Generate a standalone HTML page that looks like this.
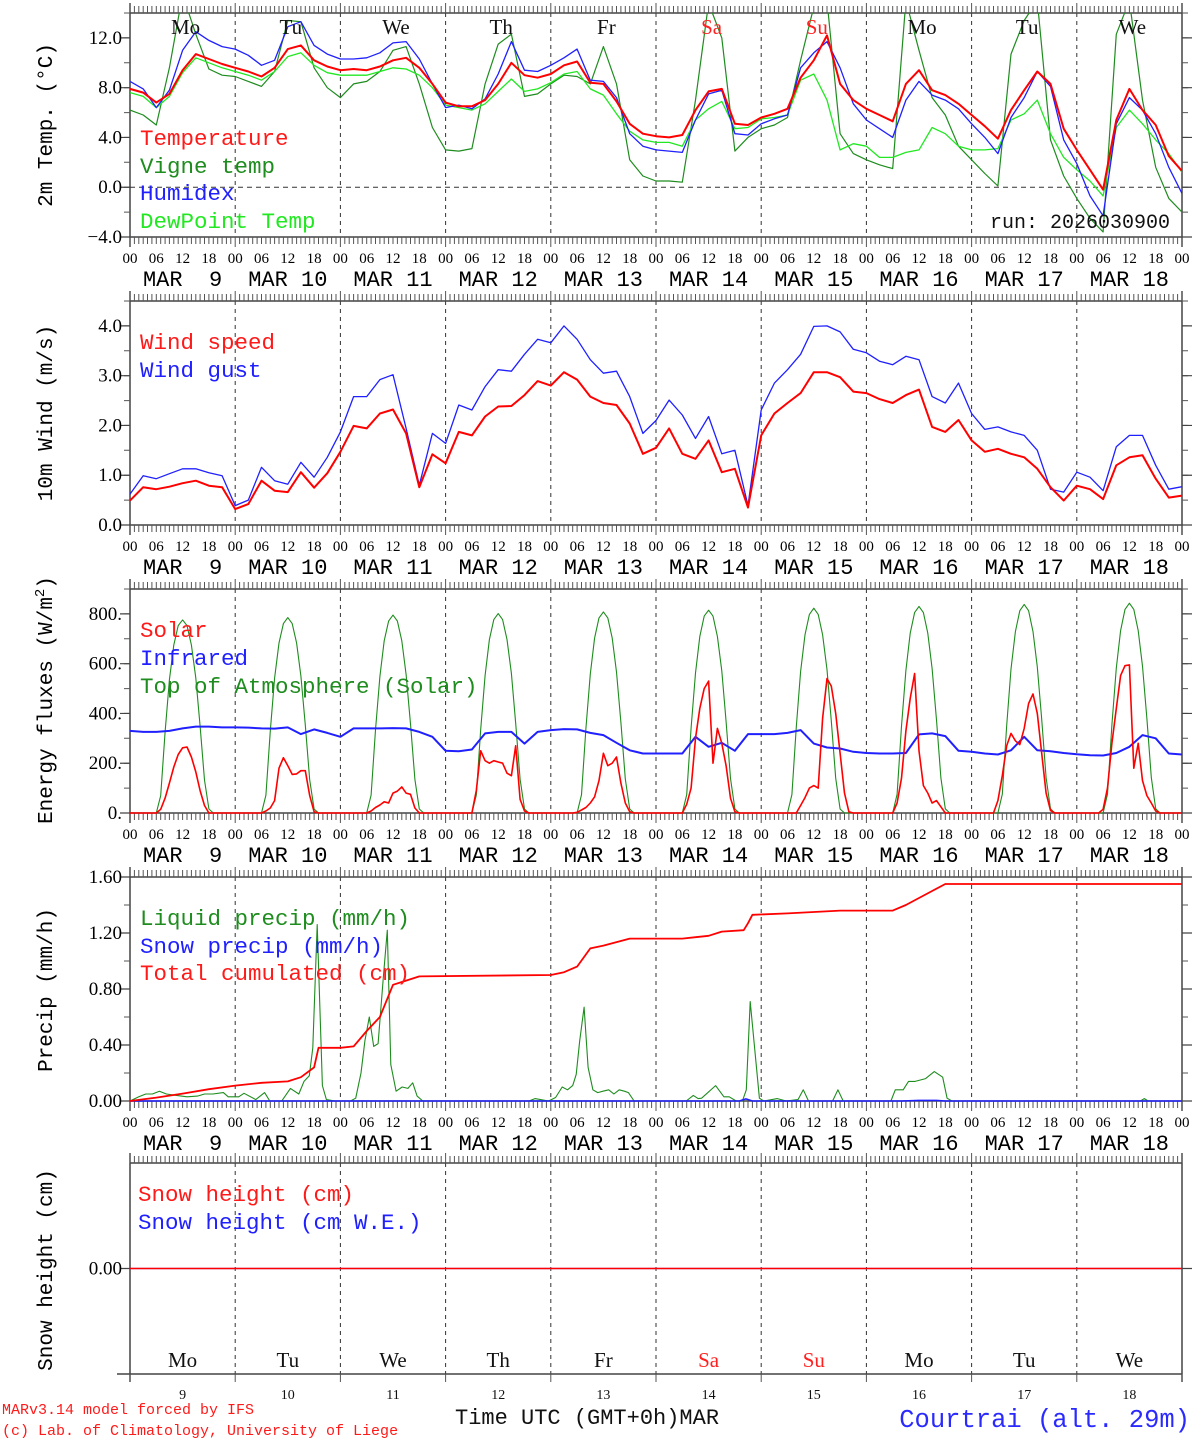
<!DOCTYPE html>
<html><head><meta charset="utf-8">
<style>
html,body{margin:0;padding:0;background:#fff;}
svg{display:block;}
text{white-space:pre;}
</style></head>
<body>
<svg id="chart" xmlns="http://www.w3.org/2000/svg" width="1194" height="1440" viewBox="0 0 1194 1440">
<defs>
<clipPath id="clipTemp"><rect x="130" y="13" width="1052" height="224"/></clipPath>
</defs>
</svg>
<script>
// ---------- DATA ----------
const dayNames = ["Mo","Tu","We","Th","Fr","Sa","Su","Mo","Tu","We"];
const dayNums = ["9","10","11","12","13","14","15","16","17","18"];
const hourLabels = ["00","06","12","18"];
const hours3 = [0,3,6,9,12,15,18,21,24,27,30,33,36,39,42,45,48,51,54,57,60,63,66,69,72,75,78,81,84,87,90,93,96,99,102,105,108,111,114,117,120,123,126,129,132,135,138,141,144,147,150,153,156,159,162,165,168,171,174,177,180,183,186,189,192,195,198,201,204,207,210,213,216,219,222,225,228,231,234,237,240];

const tempTicks = ["12.0","8.0","4.0","0.0","\u22124.0"];
const tempTickVals = [12,8,4,0,-4];
const temperature = [7.9,7.6,6.8,7.5,9.4,10.7,10.3,9.9,9.6,9.3, 8.9,9.6,11.1,11.4,10.2,9.7,9.4,9.5,9.4,9.7, 10.2,10.4,9.6,8.3,6.8,6.5,6.5,7.0,8.3,10.0, 9.0,8.8,9.1,9.8,10.1,8.4,8.3,6.9,5.1,4.3, 4.1,4.0,4.2,6.2,7.7,7.9,5.1,5.0,5.6,5.9, 6.3,8.8,10.2,12.2,8.3,7.0,6.3,5.8,5.3,8.3, 9.4,7.8,7.4,6.7,5.8,4.9,3.9,6.2,7.8,9.3, 8.3,4.7,3.0,1.4,-0.2,5.4,7.9,6.2,5.0,2.5, 1.3];
const vigneTemp = [6.2,5.8,5.0,9.6,15.5,12.3,9.5,9.0,8.9,8.5, 8.1,9.3,13.4,13.3,9.6,8.0,7.2,8.3,8.5,9.3, 11.0,11.3,8.3,4.8,3.0,2.9,3.1,8.3,11.5,12.3, 7.3,7.5,8.3,9.0,8.9,8.3,11.3,8.3,2.2,0.9, 0.5,0.5,0.4,7.0,14.8,12.0,2.9,4.0,4.7,5.0, 5.6,10.2,14.5,15.0,4.3,2.7,2.2,1.8,1.5,15.0, 11.0,7.2,5.8,3.3,2.2,1.1,0.1,10.7,13.4,15.0, 3.8,0.9,-0.9,-2.5,-3.6,12.3,15.0,7.0,1.6,-0.9, -2.0];
const humidex = [8.5,7.9,6.4,7.8,11.0,12.5,11.8,11.3,11.1,10.6, 9.8,10.2,12.9,13.3,11.4,10.7,10.3,10.3,10.4,10.8, 11.6,11.7,10.3,8.3,6.4,6.6,6.3,7.1,9.1,11.7, 9.4,9.3,9.8,10.4,11.1,8.6,8.5,7.2,4.3,3.3, 3.0,2.9,2.8,5.4,7.5,7.8,4.3,4.2,5.1,5.5, 5.8,9.6,10.8,11.7,9.6,6.7,5.4,4.7,4.0,7.0, 8.5,7.4,7.0,6.3,5.1,4.0,2.7,5.6,7.2,9.3, 8.1,3.8,1.9,-0.7,-2.3,5.1,7.2,6.2,4.3,1.6, -0.5];
const dewPoint = [7.6,7.3,6.4,7.3,9.2,10.4,10.0,9.6,9.3,9.0, 8.6,9.3,10.5,10.8,9.8,9.2,9.0,9.0,9.0,9.3, 9.6,9.5,9.0,8.0,6.6,6.4,6.2,6.7,7.7,8.7, 7.7,7.9,8.4,9.1,9.3,7.9,7.4,5.9,4.5,3.8, 3.6,3.6,3.3,5.4,6.3,6.9,4.7,4.8,5.5,5.6, 5.8,8.6,9.1,7.0,3.0,3.5,3.3,2.4,2.4,2.8, 3.0,4.8,4.3,3.3,3.0,3.0,3.1,5.4,5.9,7.0, 4.3,2.4,1.4,0.5,-0.7,4.8,6.2,5.1,3.8,2.7, 1.2];

const windTicks = ["4.0","3.0","2.0","1.0","0.0"];
const windTickVals = [4,3,2,1,0];
const windSpeed = [0.49,0.76,0.72,0.77,0.84,0.89,0.79,0.76,0.32,0.42, 0.89,0.69,0.66,1.06,0.75,1.04,1.47,1.99,1.94,2.24, 2.32,1.84,0.76,1.42,1.24,1.87,1.80,2.18,2.38,2.39, 2.61,2.89,2.80,3.07,2.92,2.58,2.45,2.41,2.04,1.43, 1.55,1.94,1.43,1.33,1.70,1.06,1.13,0.35,1.80,2.24, 2.45,2.65,3.07,3.07,2.97,2.68,2.65,2.53,2.45,2.61, 2.72,1.97,1.87,2.11,1.70,1.47,1.53,1.43,1.36,1.13, 0.76,0.49,0.79,0.72,0.52,1.20,1.36,1.40,0.93,0.55, 0.59];
const windGust = [0.62,0.99,0.93,1.03,1.13,1.13,1.05,0.99,0.39,0.50, 1.16,0.89,0.82,1.26,0.96,1.36,1.87,2.58,2.58,2.92, 3.02,1.94,0.80,1.84,1.64,2.41,2.31,2.78,3.12,3.09, 3.43,3.73,3.66,4.00,3.73,3.32,3.05,3.09,2.58,1.84, 2.10,2.51,2.21,1.74,2.18,1.43,1.50,0.39,2.31,2.85, 3.12,3.43,3.99,4.00,3.88,3.53,3.46,3.29,3.22,3.39, 3.32,2.58,2.45,2.85,2.24,1.92,1.97,1.87,1.80,1.50, 0.72,0.66,1.06,0.96,0.69,1.57,1.80,1.80,1.20,0.72, 0.77];

const energyTicks = ["800.","600.","400.","200.","0."];
const energyTickVals = [800,600,400,200,0];
const infrared = [330,326,326,330,340,347,347,344,344,343, 340,339,344,317,336,322,306,340,340,340, 341,340,326,306,250,248,255,320,326,326, 279,326,333,337,336,322,313,282,252,239, 239,239,239,306,266,282,250,317,317,317, 322,333,279,263,259,246,241,239,239,241, 316,320,309,250,246,239,235,252,306,252, 248,241,236,232,231,241,266,313,300,239, 235];
// hourly (index = hour 0..240)
const solar = [
0,0,0,0,0,0,0,15,60,120,185,235,262,265,225,165,90,30,0,0,0,0,0,0,
0,0,0,0,0,0,0,8,20,50,180,222,190,155,157,170,170,70,5,0,0,0,0,0,
0,0,0,0,0,0,0,8,22,32,45,40,80,88,105,80,75,20,0,0,0,0,0,0,
0,0,0,0,0,0,0,90,250,210,200,210,205,200,160,150,270,55,8,0,0,0,0,0,
0,0,0,0,0,0,3,12,22,40,65,130,240,190,200,225,120,40,5,0,0,0,0,0,
0,0,0,0,0,0,0,35,100,300,420,500,530,200,340,280,190,60,5,0,0,0,0,0,
0,0,0,0,0,0,0,0,0,30,62,100,110,100,380,540,510,400,240,80,5,0,0,0,
0,0,0,0,0,0,0,40,140,330,460,560,250,110,80,40,50,25,0,0,0,0,0,0,
0,0,0,0,0,0,50,150,270,320,290,275,340,440,478,400,240,80,10,0,0,0,0,0,
0,0,0,0,0,0,15,100,280,420,552,592,595,180,280,130,70,40,8,0,0,0,0,0,
0];
const toaSolar = [
0,0,0,0,0,0,0,70,326,535,675,753,776,753,675,543,349,132,16,0,0,0,0,0,
0,0,0,0,0,0,0,71,330,542,683,761,785,761,683,550,353,133,16,0,0,0,0,0,
0,0,0,0,0,0,0,72,334,549,692,771,795,771,692,557,358,135,16,0,0,0,0,0,
0,0,0,0,0,0,0,72,336,553,697,777,801,777,697,561,360,136,16,0,0,0,0,0,
0,0,0,0,0,0,0,73,339,558,703,784,808,784,703,566,364,137,16,0,0,0,0,0,
0,0,0,0,0,0,0,73,342,562,709,791,815,791,709,571,367,139,16,0,0,0,0,0,
0,0,0,0,0,0,0,74,346,568,716,798,823,798,716,576,370,140,16,0,0,0,0,0,
0,0,0,0,0,0,0,75,349,573,722,805,830,805,722,581,374,141,17,0,0,0,0,0,
0,0,0,0,0,0,0,75,352,578,729,813,838,813,729,587,377,142,17,0,0,0,0,0,
0,0,0,0,0,0,0,76,354,582,733,818,843,818,733,590,379,143,17,0,0,0,0,0,
0];

const precipTicks = ["1.60","1.20","0.80","0.40","0.00"];
const precipTickVals = [1.6,1.2,0.8,0.4,0];
const liquidHours = [0,2,3.6,5.1,6.7,8.3,10.6,13,15.4,17,18.9,21.3,22.4,24.8,26,28.7,30.7,31.9,34.6,36.6,38.5,39.7,40.9,41.7,42.7,43.9,44.8,46.8,50.3,51.5,52.7,53.6,54.6,55.6,56.6,57.8,58.7,59.5,60.7,62.1,63.4,64.5,65.5,66.8,91,92.4,95.5,97.1,98.6,99.8,101,101.8,102.6,103.6,104.5,105.6,106.7,107.9,109.2,110.4,111.6,112.8,113.7,115,126.9,128.5,129.6,130.4,133.6,135.5,136.7,138.3,139.7,140.6,141.5,143.6,144.6,147.7,149.7,152.4,153.6,154.8,160.3,161.5,162.7,173.6,174.6,176.4,177.6,179.1,181.5,183.5,185.4,186.4,187.5,230.5,231.4,232.3,240];
const liquidVals = [0,.03,.05,.05,.07,.05,.04,.03,.035,.05,.05,.06,.03,.03,.055,.01,.06,0,0,.09,.05,.14,.18,.38,1.26,.11,.01,0,0,.02,.2,.43,.6,.39,.41,.89,1.22,.26,.07,.10,.09,.13,.035,0,0,.017,0,.025,.10,.08,.11,.19,.43,.67,.24,.08,.06,.07,.08,.05,.08,.07,.06,0,0,.04,.017,.02,.11,.03,.03,0,0,.08,.71,.02,0,.017,0,.01,.08,0,0,.08,0,0,.08,.08,.14,.14,.16,.21,.17,.02,0,0,.017,0,0];
const snowPrecipHours = [0,139,140.5,142,176,180,184,186,240];
const snowPrecipVals = [0,0,0.015,0,0,0.004,0.004,0,0];
const cumulHours = [0,6,12,18,24,30,36,39,42,43,48,51,54,57,60,63,66,96,99,102,105,108,114,126,129,132,135,140,141,142,150,156,162,174,177,180,183,186,240];
const cumulVals = [0,.024,.053,.084,.11,.13,.14,.17,.24,.38,.38,.39,.50,.60,.83,.86,.89,.90,.92,.96,1.09,1.11,1.16,1.16,1.17,1.18,1.21,1.22,1.27,1.33,1.34,1.35,1.36,1.36,1.40,1.45,1.50,1.55,1.55];

const snowHours = [0,240];
const snowHeight = [0,0];
const snowWE = [0,0];

// ---------- HELPERS ----------
const NS = "http://www.w3.org/2000/svg";
const svg = document.getElementById("chart");
const X0 = 130, X1 = 1182;
function xOf(h){ return X0 + (X1 - X0) * h / 240; }
const P1 = {top:13, bottom:237, min:-4, max:14};
const P2 = {top:301, bottom:525, min:0, max:4.5};
const P3 = {top:589, bottom:813, min:0, max:900};
const P4 = {top:877, bottom:1101, min:0, max:1.6};
const P5 = {top:1163, bottom:1374, min:-1.0, max:1.0};
function yOf(p, v){ return p.bottom - (v - p.min) / (p.max - p.min) * (p.bottom - p.top); }
function el(tag, attrs, parent){
  const e = document.createElementNS(NS, tag);
  for (const k in attrs) e.setAttribute(k, attrs[k]);
  (parent || svg).appendChild(e);
  return e;
}
const SERIF = '"Liberation Serif", serif';
const MONO = '"Liberation Mono", monospace';

function drawFrame(p, idx, withHourLabels){
  const g = el('g', {});
  
  
  for (let d = 1; d < 10; d++){
    const x = xOf(d*24);
    const l = el('line', {x1:x, x2:x, y1:p.top, y2:p.bottom, stroke:'#333', 'stroke-width':1, 'stroke-dasharray':'4,4'}, g);
    
    
  }
  const top = el('line', {x1:X0, x2:X1, y1:p.top, y2:p.top, stroke:'#444', 'stroke-width':1.5}, g);
  
  
  const bot = el('line', {x1:X0, x2:X1, y1:p.bottom, y2:p.bottom, stroke:'#444', 'stroke-width':1.5}, g);
  
  
  const lft = el('line', {x1:X0, x2:X0, y1:p.top-10, y2:p.bottom+10, stroke:'#444', 'stroke-width':1.5}, g);
  
  
  const rgt = el('line', {x1:X1, x2:X1, y1:p.top-10, y2:p.bottom+10, stroke:'#444', 'stroke-width':1.5}, g);
  
  
  let dstr = '';
  for (let h = 0; h <= 240; h++){
    const x = xOf(h).toFixed(1);
    const len = (h % 24 === 0) ? 10 : 7;
    dstr += 'M' + x + ' ' + p.top + 'v' + (-len) + 'M' + x + ' ' + p.bottom + 'v' + len;
  }
  const tk = el('path', {d:dstr, stroke:'#555', 'stroke-width':1, fill:'none'}, g);
  
  
  if (withHourLabels){
    for (let h = 0; h <= 240; h += 6){
      const t = el('text', {x:xOf(h), y:p.bottom+26, 'text-anchor':'middle', 'font-family':SERIF, 'font-size':15, fill:'#000'}, g);
      
      
      t.textContent = hourLabels[(h/6) % 4];
    }
    for (let d = 0; d < 10; d++){
      const t = el('text', {x:xOf(d*24+12), y:p.bottom+49, 'text-anchor':'middle', 'font-family':MONO, 'font-size':22, fill:'#000'}, g);
      
      
      t.textContent = 'MAR ' + (dayNums[d].length === 1 ? ' ' : '') + dayNums[d];
    }
  }
}

function drawYTicks(p, vals, labels, minorStep){
  if (minorStep){
    let dstr = '';
    for (let v = p.min; v <= p.max + 1e-9; v += minorStep){
      const y = yOf(p, v).toFixed(1);
      dstr += 'M' + X0 + ' ' + y + 'h-6M' + X1 + ' ' + y + 'h6';
    }
    const m = el('path', {d:dstr, stroke:'#555', 'stroke-width':1, fill:'none'});
    
    
  }
  vals.forEach((v, i) => {
    const y = yOf(p, v);
    const l = el('path', {d:'M' + X0 + ' ' + y + 'h-10M' + X1 + ' ' + y + 'h10', stroke:'#444', 'stroke-width':1.2, fill:'none'});
    
    
    const t = el('text', {x:122, y:y+6, 'text-anchor':'end', 'font-family':SERIF, 'font-size':19, fill:'#000'});
    
    
    t.textContent = labels[i];
  });
}

function yTitle(text, cy, name){
  const t = el('text', {x:0, y:0, transform:'translate(52,' + cy + ') rotate(-90)', 'text-anchor':'middle', 'font-family':MONO, 'font-size':21, fill:'#000'});
  
  
  t.textContent = text;
  return t;
}

function series(p, hours, vals, color, width, name, clip){
  let d = '';
  hours.forEach((h, i) => { d += (i ? 'L' : 'M') + xOf(h).toFixed(1) + ' ' + yOf(p, vals[i]).toFixed(1); });
  const attrs = {d:d, stroke:color, 'stroke-width':width, fill:'none', 'stroke-linejoin':'round'};
  if (clip) attrs['clip-path'] = 'url(#' + clip + ')';
  const path = el('path', attrs);
  
  
  return path;
}
function hourly(n){ const a = []; for (let i = 0; i < n; i++) a.push(i); return a; }

function legend(x, y, text, color, name){
  const t = el('text', {x:x, y:y, 'font-family':MONO, 'font-size':22.5, fill:color});
  
  
  t.textContent = text;
}

// ---------- PANEL 1 : temperature ----------
drawFrame(P1, 1, true);
drawYTicks(P1, tempTickVals, tempTicks, 2);
const zl = el('line', {x1:X0, x2:X1, y1:yOf(P1,0), y2:yOf(P1,0), stroke:'#333', 'stroke-width':1, 'stroke-dasharray':'5,4'});


yTitle('2m Temp. (\u00B0C)', 125, 'temp-axis-title');
series(P1, hours3, vigneTemp, '#1e8c1e', 1.2, 'vigne-temp-line', 'clipTemp');
series(P1, hours3, dewPoint, '#22e822', 1.3, 'dewpoint-line', 'clipTemp');
series(P1, hours3, humidex, '#2020ff', 1.3, 'humidex-line', 'clipTemp');
series(P1, hours3, temperature, '#ff0000', 2, 'temperature-line', 'clipTemp');
dayNames.forEach((n, d) => {
  const t = el('text', {x:xOf(d*24+12)+3, y:34, 'text-anchor':'middle', 'font-family':SERIF, 'font-size':21, fill:(d===5||d===6)?'#ff2020':'#111'});
  
  
  t.textContent = n;
});
legend(140, 145, 'Temperature', '#ff1a1a', 'legend-temperature');
legend(140, 173, 'Vigne temp', '#1e8c1e', 'legend-vigne-temp');
legend(140, 200, 'Humidex', '#2020ff', 'legend-humidex');
legend(140, 228, 'DewPoint Temp', '#22e822', 'legend-dewpoint');
const run = el('text', {x:1170, y:228, 'text-anchor':'end', 'font-family':MONO, 'font-size':20, fill:'#111'});


run.textContent = 'run: 2026030900';

// ---------- PANEL 2 : wind ----------
drawFrame(P2, 2, true);
drawYTicks(P2, windTickVals, windTicks, 0.5);
yTitle('10m Wind (m/s)', 413, 'wind-axis-title');
series(P2, hours3, windGust, '#2020ff', 1.3, 'wind-gust-line');
series(P2, hours3, windSpeed, '#ff0000', 2, 'wind-speed-line');
legend(140, 349, 'Wind speed', '#ff1a1a', 'legend-wind-speed');
legend(140, 377, 'Wind gust', '#2020ff', 'legend-wind-gust');

// ---------- PANEL 3 : energy ----------
drawFrame(P3, 3, true);
drawYTicks(P3, energyTickVals, energyTicks, 100);
const et = yTitle('Energy fluxes (W/m', 700, 'energy-axis-title');
const sup = document.createElementNS(NS, 'tspan');
sup.setAttribute('dy', '-8');
sup.setAttribute('font-size', '14');
sup.textContent = '2';
et.appendChild(sup);
const cl = document.createElementNS(NS, 'tspan');
cl.setAttribute('dy', '8');
cl.textContent = ')';
et.appendChild(cl);
series(P3, hourly(241), toaSolar, '#1e8c1e', 1.1, 'toa-solar-line');
series(P3, hours3, infrared, '#2020ff', 2, 'infrared-line');
series(P3, hourly(241), solar, '#ff0000', 1.6, 'solar-line');
legend(140, 637, 'Solar', '#ff1a1a', 'legend-solar');
legend(140, 665, 'Infrared', '#2020ff', 'legend-infrared');
legend(140, 693, 'Top of Atmosphere (Solar)', '#1e8c1e', 'legend-toa');

// ---------- PANEL 4 : precipitation ----------
drawFrame(P4, 4, true);
drawYTicks(P4, precipTickVals, precipTicks, 0.2);
yTitle('Precip (mm/h)', 990, 'precip-axis-title');
series(P4, liquidHours, liquidVals, '#1e8c1e', 1.1, 'liquid-precip-line');
series(P4, snowPrecipHours, snowPrecipVals, '#2020ff', 1.6, 'snow-precip-line');
series(P4, cumulHours, cumulVals, '#ff0000', 1.8, 'cumulated-precip-line');
legend(140, 925, 'Liquid precip (mm/h)', '#1e8c1e', 'legend-liquid-precip');
legend(140, 953, 'Snow precip (mm/h)', '#2020ff', 'legend-snow-precip');
legend(140, 980, 'Total cumulated (cm)', '#ff1a1a', 'legend-total-cumulated');

// ---------- PANEL 5 : snow height ----------
(function(){
  const p = P5;
  for (let d = 1; d < 10; d++){
    const x = xOf(d*24);
    const l = el('line', {x1:x, x2:x, y1:p.top, y2:p.bottom, stroke:'#333', 'stroke-width':1, 'stroke-dasharray':'4,4'});
    
    
  }
  const top = el('line', {x1:X0, x2:X1, y1:p.top, y2:p.top, stroke:'#444', 'stroke-width':1.5});
  
  
  const bot = el('line', {x1:117, x2:X1, y1:p.bottom, y2:p.bottom, stroke:'#444', 'stroke-width':1.5});
  
  
  const lft = el('line', {x1:X0, x2:X0, y1:p.top-10, y2:p.bottom+8, stroke:'#444', 'stroke-width':1.5});
  
  
  const rgt = el('line', {x1:X1, x2:X1, y1:p.top-10, y2:p.bottom+8, stroke:'#444', 'stroke-width':1.5});
  
  
  let dstr = '';
  for (let h = 0; h <= 240; h++){
    const x = xOf(h).toFixed(1);
    dstr += 'M' + x + ' ' + p.top + 'v' + ((h % 24 === 0) ? -10 : -7);
  }
  for (let d = 0; d <= 10; d++) dstr += 'M' + xOf(d*24).toFixed(1) + ' ' + p.bottom + 'v8';
  const tk = el('path', {d:dstr, stroke:'#555', 'stroke-width':1, fill:'none'});
  
  
})();
drawYTicks(P5, [0], ['0.00'], 0);
yTitle('Snow height (cm)', 1270, 'snow-axis-title');
series(P5, snowHours, snowWE, '#2020ff', 1.3, 'snow-we-line');
series(P5, snowHours, snowHeight, '#ff0000', 1.5, 'snow-height-line');
legend(138, 1201, 'Snow height (cm)', '#ff1a1a', 'legend-snow-height');
legend(138, 1229, 'Snow height (cm W.E.)', '#2020ff', 'legend-snow-we');
dayNames.forEach((n, d) => {
  const t = el('text', {x:xOf(d*24+12), y:1367, 'text-anchor':'middle', 'font-family':SERIF, 'font-size':21, fill:(d===5||d===6)?'#ff2020':'#111'});
  
  
  t.textContent = n;
  const t2 = el('text', {x:xOf(d*24+12), y:1399, 'text-anchor':'middle', 'font-family':SERIF, 'font-size':14, fill:'#111'});
  
  
  t2.textContent = dayNums[d];
});

// ---------- footer ----------
const xt = el('text', {x:455, y:1424, 'font-family':MONO, 'font-size':22, fill:'#111'});


xt.textContent = 'Time UTC (GMT+0h)MAR';
const c1 = el('text', {x:2, y:1414, 'font-family':MONO, 'font-size':15, fill:'#ff1a1a'});


c1.textContent = 'MARv3.14 model forced by IFS';
const c2 = el('text', {x:2, y:1435, 'font-family':MONO, 'font-size':15, fill:'#ff1a1a'});


c2.textContent = '(c) Lab. of Climatology, University of Liege';
const loc = el('text', {x:1190, y:1427, 'text-anchor':'end', 'font-family':MONO, 'font-size':25.5, fill:'#2a2aff'});


loc.textContent = 'Courtrai (alt. 29m)';
</script>
</body></html>
